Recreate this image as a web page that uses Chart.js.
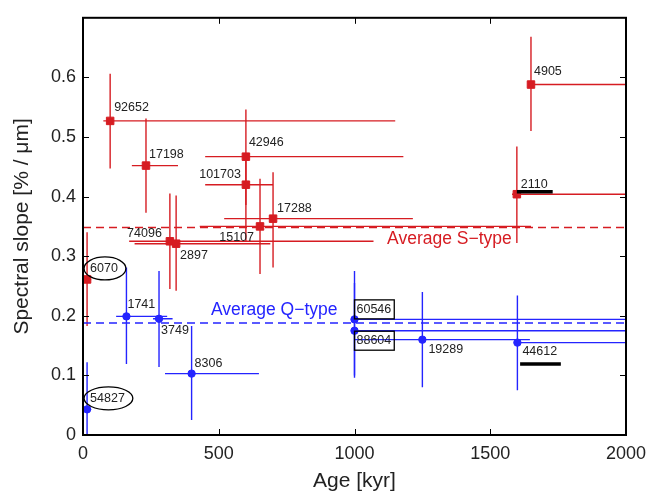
<!DOCTYPE html>
<html>
<head>
<meta charset="utf-8">
<script src="https://cdn.jsdelivr.net/npm/chart.js@4.4.1/dist/chart.umd.min.js"></script>
<style>
  html, body { margin: 0; padding: 0; background: #fff; }
</style>
</head>
<body>
<canvas id="myChart" width="661" height="496"></canvas>
<script>
// S-type asteroids: age [kyr] and spectral slope, with error ranges
const sNames = ['92652', '17198', '42946', '101703', '17288', '15107', '74096', '2897', '6070', '2110', '4905']
const sAge = [100, 232, 600, 600, 700, 652, 320, 343, 15, 1598, 1650]
const sAgeLow = [75, 180, 450, 450, 520, 430, 170, 190, 0, 1580, 1640]
const sAgeHigh = [1150, 350, 1180, 700, 1215, 1650, 1070, 690, 30, 2300, 2300]
const sSlope = [0.527, 0.452, 0.467, 0.420, 0.363, 0.350, 0.325, 0.321, 0.261, 0.404, 0.588]
const sSlopeLow = [0.447, 0.373, 0.386, 0.324, 0.281, 0.270, 0.245, 0.242, 0.183, 0.322, 0.510]
const sSlopeHigh = [0.606, 0.531, 0.546, 0.466, 0.441, 0.430, 0.405, 0.402, 0.340, 0.484, 0.668]

// Q-type asteroids
const qNames = ['54827', '1741', '3749', '8306', '60546', '88604', '19289', '44612']
const qAge = [15, 160, 280, 400, 1000, 1000, 1250, 1600]
const qAgeLow = [0, 122, 258, 302, 995, 995, 1000, 1600]
const qAgeHigh = [30, 310, 330, 648, 2300, 2300, 1646, 2300]
const qSlope = [0.043, 0.199, 0.195, 0.103, 0.194, 0.175, 0.160, 0.155]
const qSlopeLow = [0, 0.119, 0.114, 0.025, 0.096, 0.100, 0.080, 0.075]
const qSlopeHigh = [0.122, 0.281, 0.275, 0.183, 0.275, 0.255, 0.240, 0.234]

// averages per type
const avgS = 0.348
const avgQ = 0.188

const xTicks = [0, 500, 1000, 1500, 2000]
const yTicks = [0, 0.1, 0.2, 0.3, 0.4, 0.5, 0.6]

// thick black bars: [age from, age to, slope]
const blackBars = [[1598, 1730, 0.408], [1610, 1760, 0.119]]

// label placement next to each point: dx, dy, align, frame
const sLabelPos = [[4, -13, 'left'], [3, -11, 'left'], [3, -14, 'left'], [-5, -10, 'right'], [4, -10, 'left'],
  [-6, 11, 'right'], [-8, -8, 'right'], [4, 12, 'left'], [3, -11, 'left', 'ellipse'], [4, -10, 'left'], [3, -13, 'left']]
const qLabelPos = [[3, -11, 'left', 'ellipse'], [1, -12, 'left'], [2, 12, 'left'], [3, -10, 'left'],
  [2, -10, 'left', 'box'], [2, 10, 'left', 'box'], [6, 10, 'left'], [5, 9, 'left']]

const red = '#d61c22'
const blue = '#2424ff'
const fontFamily = '"Liberation Sans", Arial, sans-serif'

const errorBars = {
  id: 'errorBars',
  beforeDatasetsDraw(chart) {
    const {ctx, chartArea: a, scales: {x, y}} = chart
    ctx.save()
    ctx.beginPath()
    ctx.rect(a.left, a.top, a.right - a.left, a.bottom - a.top)
    ctx.clip()
    ctx.lineWidth = 1.4
    const draw = (color, age, lo, hi, slope, slo, shi) => {
      ctx.strokeStyle = color
      for (let i = 0; i < age.length; i++) {
        ctx.beginPath()
        ctx.moveTo(x.getPixelForValue(lo[i]), y.getPixelForValue(slope[i]))
        ctx.lineTo(x.getPixelForValue(hi[i]), y.getPixelForValue(slope[i]))
        ctx.moveTo(x.getPixelForValue(age[i]), y.getPixelForValue(slo[i]))
        ctx.lineTo(x.getPixelForValue(age[i]), y.getPixelForValue(shi[i]))
        ctx.stroke()
      }
    }
    draw(red, sAge, sAgeLow, sAgeHigh, sSlope, sSlopeLow, sSlopeHigh)
    draw(blue, qAge, qAgeLow, qAgeHigh, qSlope, qSlopeLow, qSlopeHigh)
    ctx.restore()
  }
}

const frameAndLabels = {
  id: 'frameAndLabels',
  afterDatasetsDraw(chart) {
    const {ctx, chartArea: a, scales: {x, y}} = chart
    ctx.save()
    // black bars
    ctx.strokeStyle = '#000'
    ctx.lineWidth = 3.5
    blackBars.forEach(b => {
      ctx.beginPath()
      ctx.moveTo(x.getPixelForValue(b[0]), y.getPixelForValue(b[2]))
      ctx.lineTo(x.getPixelForValue(b[1]), y.getPixelForValue(b[2]))
      ctx.stroke()
    })

    // point labels
    ctx.font = '12.5px ' + fontFamily
    ctx.textBaseline = 'middle'
    const label = (meta, names, pos) => {
      names.forEach((name, i) => {
        const p = meta.data[i]
        const [dx, dy, align, frame] = pos[i]
        const tx = p.x + dx, ty = p.y + dy
        const w = ctx.measureText(name).width
        const left = align === 'right' ? tx - w : tx
        ctx.fillStyle = '#222'
        ctx.textAlign = 'left'
        ctx.fillText(name, left, ty)
        ctx.strokeStyle = '#000'
        ctx.lineWidth = 1.3
        if (frame === 'ellipse') {
          ctx.beginPath()
          ctx.ellipse(left + w / 2 + 1, ty, w / 2 + 7, 11.5, 0, 0, Math.PI * 2)
          ctx.stroke()
        } else if (frame === 'box') {
          ctx.strokeRect(left - 2, ty - 9.5, w + 5, 19)
        }
      })
    }
    label(chart.getDatasetMeta(0), sNames, sLabelPos)
    label(chart.getDatasetMeta(1), qNames, qLabelPos)

    // average captions
    ctx.font = '17.5px ' + fontFamily
    ctx.fillStyle = red
    ctx.fillText('Average S\u2212type', x.getPixelForValue(1120), y.getPixelForValue(avgS) + 12)
    ctx.fillStyle = blue
    ctx.fillText('Average Q\u2212type', x.getPixelForValue(471), y.getPixelForValue(avgQ) - 13)

    // frame with inward ticks
    ctx.strokeStyle = '#000'
    ctx.lineWidth = 2
    ctx.strokeRect(a.left, a.top, a.right - a.left, a.bottom - a.top)
    ctx.lineWidth = 1
    ctx.beginPath()
    xTicks.forEach(v => {
      const px = Math.round(x.getPixelForValue(v)) + 0.5
      ctx.moveTo(px, a.bottom); ctx.lineTo(px, a.bottom - 6)
      ctx.moveTo(px, a.top); ctx.lineTo(px, a.top + 6)
    })
    yTicks.forEach(v => {
      const py = Math.round(y.getPixelForValue(v)) + 0.5
      ctx.moveTo(a.left, py); ctx.lineTo(a.left + 6, py)
      ctx.moveTo(a.right, py); ctx.lineTo(a.right - 6, py)
    })
    ctx.stroke()
    ctx.restore()
  }
}

const ctx = document.getElementById('myChart').getContext('2d')
const myChart = new Chart(ctx, {
  type: 'scatter',
  data: {
    datasets: [{
      label: 'S-type',
      data: sAge.map((a, i) => ({x: a, y: sSlope[i]})),
      pointStyle: 'rect',
      pointRadius: 5.3,
      backgroundColor: red,
      borderColor: red,
      borderWidth: 1
    }, {
      label: 'Q-type',
      data: qAge.map((a, i) => ({x: a, y: qSlope[i]})),
      pointStyle: 'circle',
      pointRadius: 3.7,
      backgroundColor: blue,
      borderColor: blue,
      borderWidth: 1
    }, {
      label: 'Average S-type',
      data: [{x: 0, y: avgS}, {x: 2000, y: avgS}],
      showLine: true,
      pointRadius: 0,
      borderColor: red,
      borderWidth: 1.5,
      borderDash: [8, 5]
    }, {
      label: 'Average Q-type',
      data: [{x: 0, y: avgQ}, {x: 2000, y: avgQ}],
      showLine: true,
      pointRadius: 0,
      borderColor: blue,
      borderWidth: 1.5,
      borderDash: [8, 5]
    }]
  },
  options: {
    responsive: false,
    animation: false,
    layout: { padding: { top: 6, right: 35, left: 0, bottom: 0 } },
    plugins: { legend: { display: false }, tooltip: { enabled: false } },
    scales: {
      x: {
        type: 'linear',
        min: 0,
        max: 2000,
        afterBuildTicks: s => { s.ticks = xTicks.map(v => ({value: v})) },
        afterFit: s => { s.height = 61 },
        grid: { display: false, drawTicks: false },
        border: { display: false },
        ticks: { padding: 8, color: '#222', font: { size: 18, family: fontFamily }, callback: v => String(v), maxRotation: 0 },
        title: { display: true, text: 'Age [kyr]', color: '#222', font: { size: 21, family: fontFamily }, padding: { top: 0, bottom: 2 } }
      },
      y: {
        type: 'linear',
        min: 0,
        max: 0.7,
        afterBuildTicks: s => { s.ticks = yTicks.map(v => ({value: v})) },
        afterFit: s => { s.width = 83 },
        grid: { display: false, drawTicks: false },
        border: { display: false },
        ticks: { padding: 7, color: '#222', font: { size: 18, family: fontFamily }, callback: v => String(v) },
        title: { display: true, text: 'Spectral slope [% / \u03bcm]', color: '#222', font: { size: 21, family: fontFamily }, padding: { top: 10, bottom: 0 } }
      }
    }
  },
  plugins: [errorBars, frameAndLabels]
})
</script>
</body>
</html>
